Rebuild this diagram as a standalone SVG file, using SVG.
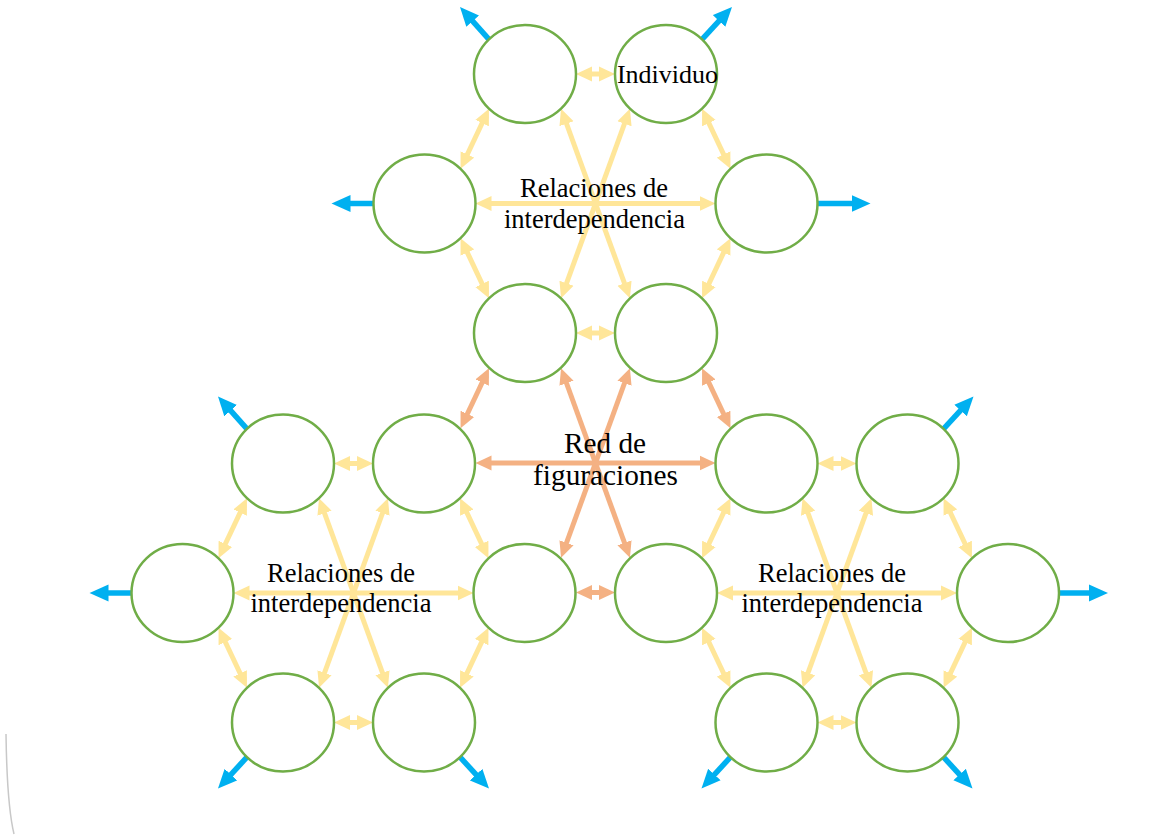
<svg xmlns="http://www.w3.org/2000/svg" width="1174" height="835" viewBox="0 0 1174 835">
<style>
.c{fill:#ffffff;stroke:#70AD47;stroke-width:2.5}
.y{stroke:#FFE699;stroke-width:5;fill:none;marker-start:url(#ay);marker-end:url(#ay)}
.o{stroke:#F4B183;stroke-width:5;fill:none;marker-start:url(#ao);marker-end:url(#ao)}
.b{stroke:#00B0F0;stroke-width:5.5;fill:none;marker-end:url(#ab)}
.t{font-family:"Liberation Serif","Times New Roman",serif;font-size:26.5px;fill:#000;text-anchor:middle}
.t2{font-family:"Liberation Serif","Times New Roman",serif;font-size:29.3px;fill:#000;text-anchor:middle}
</style>
<defs>
<marker id="ay" viewBox="0 -8 17 16" refX="1" refY="0" markerWidth="17" markerHeight="16" markerUnits="userSpaceOnUse" orient="auto-start-reverse"><path d="M0,-7.5 L16,0 L0,7.5 z" fill="#FFE699"/></marker>
<marker id="ao" viewBox="0 -8 17 16" refX="1" refY="0" markerWidth="17" markerHeight="16" markerUnits="userSpaceOnUse" orient="auto-start-reverse"><path d="M0,-7.5 L16,0 L0,7.5 z" fill="#F4B183"/></marker>
<marker id="ab" viewBox="0 -9 20 18" refX="1" refY="0" markerWidth="20" markerHeight="18" markerUnits="userSpaceOnUse" orient="auto"><path d="M0,-8.5 L19,0 L0,8.5 z" fill="#00B0F0"/></marker>
</defs>
<rect width="1174" height="835" fill="#ffffff"/>
<path d="M6,734 Q7,805 14,834" fill="none" stroke="#C8C8C8" stroke-width="1.5"/>
<g id="connectors">
  <g id="hex-top-links" transform="translate(595.5,203.5)">
    <line class="y" x1="-112.96" y1="-81.28" x2="-128.54" y2="-48.22"/>
    <line class="y" x1="-128.54" y1="48.22" x2="-112.96" y2="81.28"/>
    <line class="y" x1="112.96" y1="-81.28" x2="128.54" y2="-48.22"/>
    <line class="y" x1="128.54" y1="48.22" x2="112.96" y2="81.28"/>
    <line class="y" x1="-29.32" y1="-80.75" x2="29.32" y2="80.75"/>
    <line class="y" x1="29.32" y1="-80.75" x2="-29.32" y2="80.75"/>
    <line class="y" x1="-105" y1="0" x2="105" y2="0"/>
    <line class="y" x1="-4.5" y1="-129.5" x2="4.5" y2="-129.5"/>
    <line class="y" x1="-4.5" y1="129.5" x2="4.5" y2="129.5"/>
  </g>
  <g id="hex-left-links" transform="translate(353.5,593)">
    <line class="y" x1="-112.96" y1="-81.28" x2="-128.54" y2="-48.22"/>
    <line class="y" x1="-128.54" y1="48.22" x2="-112.96" y2="81.28"/>
    <line class="y" x1="112.96" y1="-81.28" x2="128.54" y2="-48.22"/>
    <line class="y" x1="128.54" y1="48.22" x2="112.96" y2="81.28"/>
    <line class="y" x1="-29.32" y1="-80.75" x2="29.32" y2="80.75"/>
    <line class="y" x1="29.32" y1="-80.75" x2="-29.32" y2="80.75"/>
    <line class="y" x1="-105" y1="0" x2="105" y2="0"/>
    <line class="y" x1="-4.5" y1="-129.5" x2="4.5" y2="-129.5"/>
    <line class="y" x1="-4.5" y1="129.5" x2="4.5" y2="129.5"/>
  </g>
  <g id="hex-right-links" transform="translate(837,593)">
    <line class="y" x1="-112.96" y1="-81.28" x2="-128.54" y2="-48.22"/>
    <line class="y" x1="-128.54" y1="48.22" x2="-112.96" y2="81.28"/>
    <line class="y" x1="112.96" y1="-81.28" x2="128.54" y2="-48.22"/>
    <line class="y" x1="128.54" y1="48.22" x2="112.96" y2="81.28"/>
    <line class="y" x1="-29.32" y1="-80.75" x2="29.32" y2="80.75"/>
    <line class="y" x1="29.32" y1="-80.75" x2="-29.32" y2="80.75"/>
    <line class="y" x1="-105" y1="0" x2="105" y2="0"/>
    <line class="y" x1="-4.5" y1="-129.5" x2="4.5" y2="-129.5"/>
    <line class="y" x1="-4.5" y1="129.5" x2="4.5" y2="129.5"/>
  </g>
  <g id="red-links" transform="translate(595.5,463)">
    <line class="o" x1="-112.96" y1="-81.28" x2="-128.54" y2="-48.22"/>
    <line class="o" x1="112.96" y1="-81.28" x2="128.54" y2="-48.22"/>
    <line class="o" x1="-29.32" y1="-80.75" x2="29.32" y2="80.75"/>
    <line class="o" x1="29.32" y1="-80.75" x2="-29.32" y2="80.75"/>
    <line class="o" x1="-105" y1="0" x2="105" y2="0"/>
    <line class="o" x1="-4.5" y1="129.5" x2="4.5" y2="129.5"/>
  </g>
  <g id="outward-links">
    <line class="b" x1="488.94" y1="39.35" x2="472" y2="20.42"/>
    <line class="b" x1="702.06" y1="39.35" x2="719.77" y2="20.21"/>
    <line class="b" x1="373.5" y1="203.5" x2="349.5" y2="203.5"/>
    <line class="b" x1="817.5" y1="203.5" x2="852.5" y2="203.5"/>
    <line class="b" x1="246.94" y1="428.85" x2="230" y2="409.92"/>
    <line class="b" x1="131.5" y1="593" x2="107.5" y2="593"/>
    <line class="b" x1="246.94" y1="757.15" x2="230.2" y2="775.3"/>
    <line class="b" x1="460.06" y1="757.15" x2="476.8" y2="775.3"/>
    <line class="b" x1="943.56" y1="428.85" x2="961.27" y2="409.71"/>
    <line class="b" x1="1059" y1="593" x2="1090" y2="593"/>
    <line class="b" x1="730.44" y1="757.15" x2="713.7" y2="775.3"/>
    <line class="b" x1="943.56" y1="757.15" x2="960.3" y2="775.3"/>
  </g>
</g>
<g id="n-top-tl"><ellipse class="c" cx="525" cy="74" rx="51" ry="49"/></g>
<g id="n-top-tr"><ellipse class="c" cx="666" cy="74" rx="51" ry="49"/><text class="t" x="667.5" y="83" style="font-size:26px">Individuo</text></g>
<g id="n-top-l"><ellipse class="c" cx="424.5" cy="203.5" rx="51" ry="49"/></g>
<g id="n-top-r"><ellipse class="c" cx="766.5" cy="203.5" rx="51" ry="49"/></g>
<g id="n-top-bl"><ellipse class="c" cx="525" cy="333" rx="51" ry="49"/></g>
<g id="n-top-br"><ellipse class="c" cx="666" cy="333" rx="51" ry="49"/></g>
<g id="n-left-tl"><ellipse class="c" cx="283" cy="463.5" rx="51" ry="49"/></g>
<g id="n-left-tr"><ellipse class="c" cx="424" cy="463.5" rx="51" ry="49"/></g>
<g id="n-left-l"><ellipse class="c" cx="182.5" cy="593" rx="51" ry="49"/></g>
<g id="n-left-r"><ellipse class="c" cx="524.5" cy="593" rx="51" ry="49"/></g>
<g id="n-left-bl"><ellipse class="c" cx="283" cy="722.5" rx="51" ry="49"/></g>
<g id="n-left-br"><ellipse class="c" cx="424" cy="722.5" rx="51" ry="49"/></g>
<g id="n-right-tl"><ellipse class="c" cx="766.5" cy="463.5" rx="51" ry="49"/></g>
<g id="n-right-tr"><ellipse class="c" cx="907.5" cy="463.5" rx="51" ry="49"/></g>
<g id="n-right-l"><ellipse class="c" cx="666" cy="593" rx="51" ry="49"/></g>
<g id="n-right-r"><ellipse class="c" cx="1008" cy="593" rx="51" ry="49"/></g>
<g id="n-right-bl"><ellipse class="c" cx="766.5" cy="722.5" rx="51" ry="49"/></g>
<g id="n-right-br"><ellipse class="c" cx="907.5" cy="722.5" rx="51" ry="49"/></g>
<g id="label-top"><text class="t" x="594" y="197">Relaciones de</text><text class="t" x="594.5" y="228">interdependencia</text></g>
<g id="label-red"><text class="t2" x="605" y="453">Red de</text><text class="t2" x="605.5" y="485">figuraciones</text></g>
<g id="label-left"><text class="t" x="341" y="582">Relaciones de</text><text class="t" x="341" y="612">interdependencia</text></g>
<g id="label-right"><text class="t" x="832" y="582">Relaciones de</text><text class="t" x="832" y="612">interdependencia</text></g>
</svg>
